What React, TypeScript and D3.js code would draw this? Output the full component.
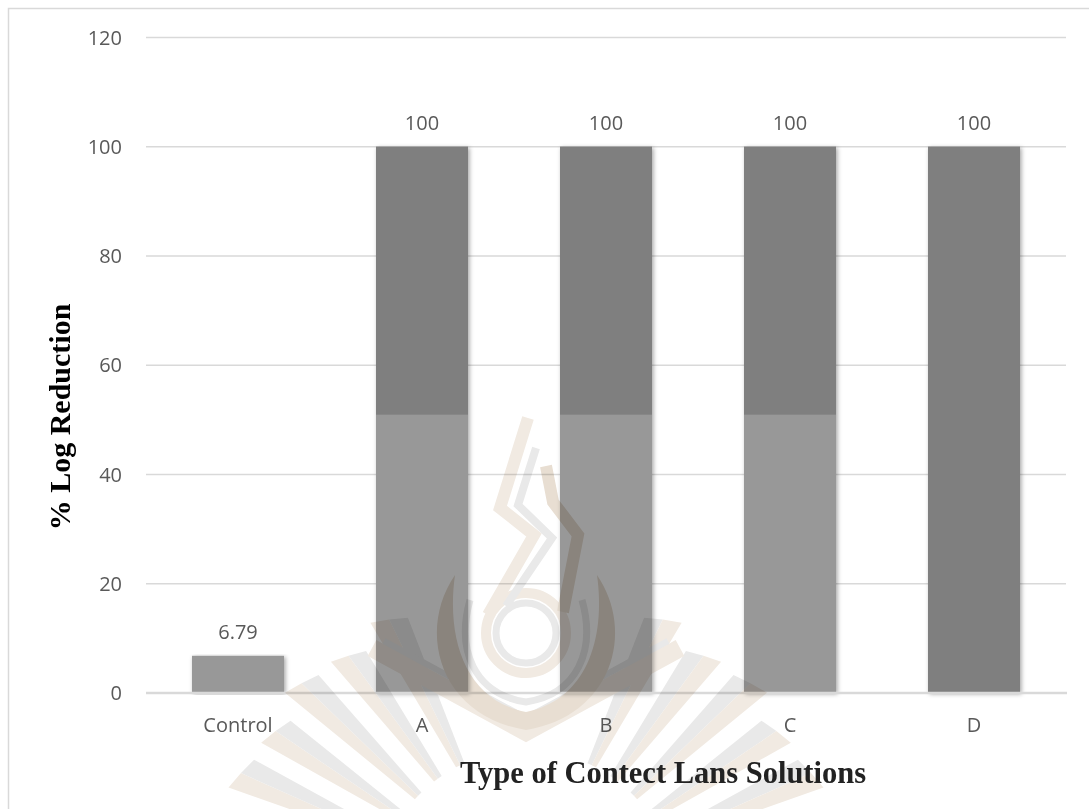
import React from "react";
import * as d3 from "d3";

// Chart data
const categories = ["Control", "A", "B", "C", "D"];
const lowerValues = [6.79, 51, 51, 51, 0];
const upperValues = [0, 49, 49, 49, 100];
const totalLabels = ["6.79", "100", "100", "100", "100"];
const yTicks = [0, 20, 40, 60, 80, 100, 120];

const W = 1089;
const H = 809;

const LIGHT = "#989898";
const DARK = "#7f7f7f";
const GRID = "#d9d9d9";
const TICK_TEXT = "#595959";

// Faint university-seal watermark printed behind the page content
function Watermark() {
  const cx = 526;
  const cy = 900;
  const beige = "#f1eae2";
  const beigeDeep = "#e8ded2";
  const grey = "#e9e9e9";
  const rayAngles = [26, 36, 46, 56, 66, 76];
  const toXY = (deg: number, r: number): [number, number] => {
    const a = (deg * Math.PI) / 180;
    return [cx + Math.sin(a) * r, cy - Math.cos(a) * r];
  };
  const rays: React.ReactNode[] = [];
  [-1, 1].forEach((side) => {
    rayAngles.forEach((ang, i) => {
      const a = ang * side;
      const rOut = 312 - (i % 2) * 10;
      const rIn = 150;
      const hwOut = 3.3;
      const hwIn = 1.8;
      const [o1x, o1y] = toXY(a - hwOut, rOut - 6 * side);
      const [o2x, o2y] = toXY(a + hwOut, rOut + 6 * side);
      const [omx, omy] = toXY(a, rOut);
      const [i1x, i1y] = toXY(a - hwIn, rIn);
      const [i2x, i2y] = toXY(a + hwIn, rIn);
      const [imx, imy] = toXY(a, rIn);
      rays.push(
        <g key={`r${side}${i}`}>
          <path d={`M${i1x},${i1y} L${o1x},${o1y} L${omx},${omy} L${imx},${imy} Z`} fill={side < 0 ? beige : grey} />
          <path d={`M${imx},${imy} L${omx},${omy} L${o2x},${o2y} L${i2x},${i2y} Z`} fill={side < 0 ? grey : beige} />
        </g>
      );
    });
  });

  return (
    <g style={{ mixBlendMode: "multiply" }}>
      {rays}
      {/* chevron below the drop */}
      <path d="M372,648 L526,732 L680,648" fill="none" stroke={beige} strokeWidth={18} />
      <path d="M384,641 L526,718 L668,641" fill="none" stroke={grey} strokeWidth={6} />
      {/* horns */}
      <path d="M455,575 C416,632 440,716 526,730 L526,712 C466,700 446,640 455,575 Z" fill={beigeDeep} />
      <path d="M597,575 C636,632 612,716 526,730 L526,712 C586,700 606,640 597,575 Z" fill={beigeDeep} />
      <path d="M470,600 C456,650 474,694 526,702 C578,694 596,650 582,600" fill="none" stroke={grey} strokeWidth={7} />
      {/* ring around the drop */}
      <circle cx={526} cy={633} r={40} fill="none" stroke={beige} strokeWidth={10} />
      <circle cx={526} cy={633} r={30} fill="none" stroke={grey} strokeWidth={7} />
      {/* flame */}
      <path d="M488,615 L534,535 L500,508 L528,418" fill="none" stroke={beige} strokeWidth={12} strokeLinejoin="miter" />
      <path d="M506,606 L552,538 L518,505 L536,448" fill="none" stroke={grey} strokeWidth={8} strokeLinejoin="miter" />
      <path d="M563,612 L578,535 L553,502 L546,466" fill="none" stroke={beigeDeep} strokeWidth={12} strokeLinejoin="miter" />
    </g>
  );
}

export default function App() {
  const x = d3
    .scaleBand<string>()
    .domain(categories)
    .range([146, 1066])
    .paddingInner(0.5)
    .paddingOuter(0.25);
  const y = d3.scaleLinear().domain([0, 120]).range([693, 37.5]);

  const bw = x.bandwidth();

  return (
    <svg
      width={W}
      height={H}
      viewBox={`0 0 ${W} ${H}`}
      style={{ position: "absolute", left: 0, top: 0, background: "#fff" }}
    >
      <defs>
        <filter id="barShadow" x="-20%" y="-5%" width="140%" height="110%">
          <feDropShadow dx={1.5} dy={1} stdDeviation={2.2} floodColor="#000" floodOpacity={0.35} />
        </filter>
      </defs>
      <rect x={0} y={0} width={W} height={H} fill="#fff" />
      <rect x={8.5} y={8.5} width={1200} height={900} fill="none" stroke={GRID} strokeWidth={1.5} />

      {/* gridlines */}
      {yTicks.slice(1).map((t) => (
        <line key={t} x1={146} x2={1066} y1={y(t)} y2={y(t)} stroke={GRID} strokeWidth={1.3} />
      ))}

      {/* y tick labels */}
      {yTicks.map((t) => (
        <text
          key={`l${t}`}
          x={122}
          y={y(t)}
          dy="0.36em"
          textAnchor="end"
          fontFamily="'Open Sans', sans-serif"
          fontSize={20}
          fill={TICK_TEXT}
        >
          {t}
        </text>
      ))}

      {/* bar shadows */}
      {categories.map((c, i) => {
        const total = lowerValues[i] + upperValues[i];
        return (
          <rect
            key={`s${c}`}
            x={x(c)}
            y={y(total)}
            width={bw}
            height={y(0) - y(total)}
            fill={DARK}
            filter="url(#barShadow)"
          />
        );
      })}

      {/* stacked bars */}
      {categories.map((c, i) => {
        const lo = lowerValues[i];
        const up = upperValues[i];
        return (
          <g key={c}>
            {lo > 0 && <rect x={x(c)} y={y(lo)} width={bw} height={y(0) - y(lo)} fill={LIGHT} />}
            {up > 0 && <rect x={x(c)} y={y(lo + up)} width={bw} height={y(lo) - y(lo + up)} fill={DARK} />}
          </g>
        );
      })}

      {/* x axis line */}
      <line x1={146} x2={1067} y1={y(0)} y2={y(0)} stroke={GRID} strokeWidth={2.5} />

      {/* value labels */}
      {categories.map((c, i) => {
        const total = lowerValues[i] + upperValues[i];
        return (
          <text
            key={`v${c}`}
            x={(x(c) as number) + bw / 2}
            y={y(total) - 17}
            textAnchor="middle"
            fontFamily="'Open Sans', sans-serif"
            fontSize={20}
            fill={TICK_TEXT}
          >
            {totalLabels[i]}
          </text>
        );
      })}

      {/* category labels */}
      {categories.map((c) => (
        <text
          key={`c${c}`}
          x={(x(c) as number) + bw / 2}
          y={732}
          textAnchor="middle"
          fontFamily="'Open Sans', sans-serif"
          fontSize={20}
          fill={TICK_TEXT}
        >
          {c}
        </text>
      ))}

      <Watermark />

      {/* axis titles */}
      <text
        transform="translate(70,417) rotate(-90)"
        textAnchor="middle"
        fontFamily="'Liberation Serif', 'Times New Roman', serif"
        fontWeight="bold"
        fontSize={30}
        fill="#000"
      >
        % Log Reduction
      </text>
      <text
        x={663}
        y={783}
        textAnchor="middle"
        fontFamily="'Liberation Serif', 'Times New Roman', serif"
        fontWeight="bold"
        fontSize={30.5}
        fill="#222"
      >
        Type of Contect Lans Solutions
      </text>
    </svg>
  );
}
